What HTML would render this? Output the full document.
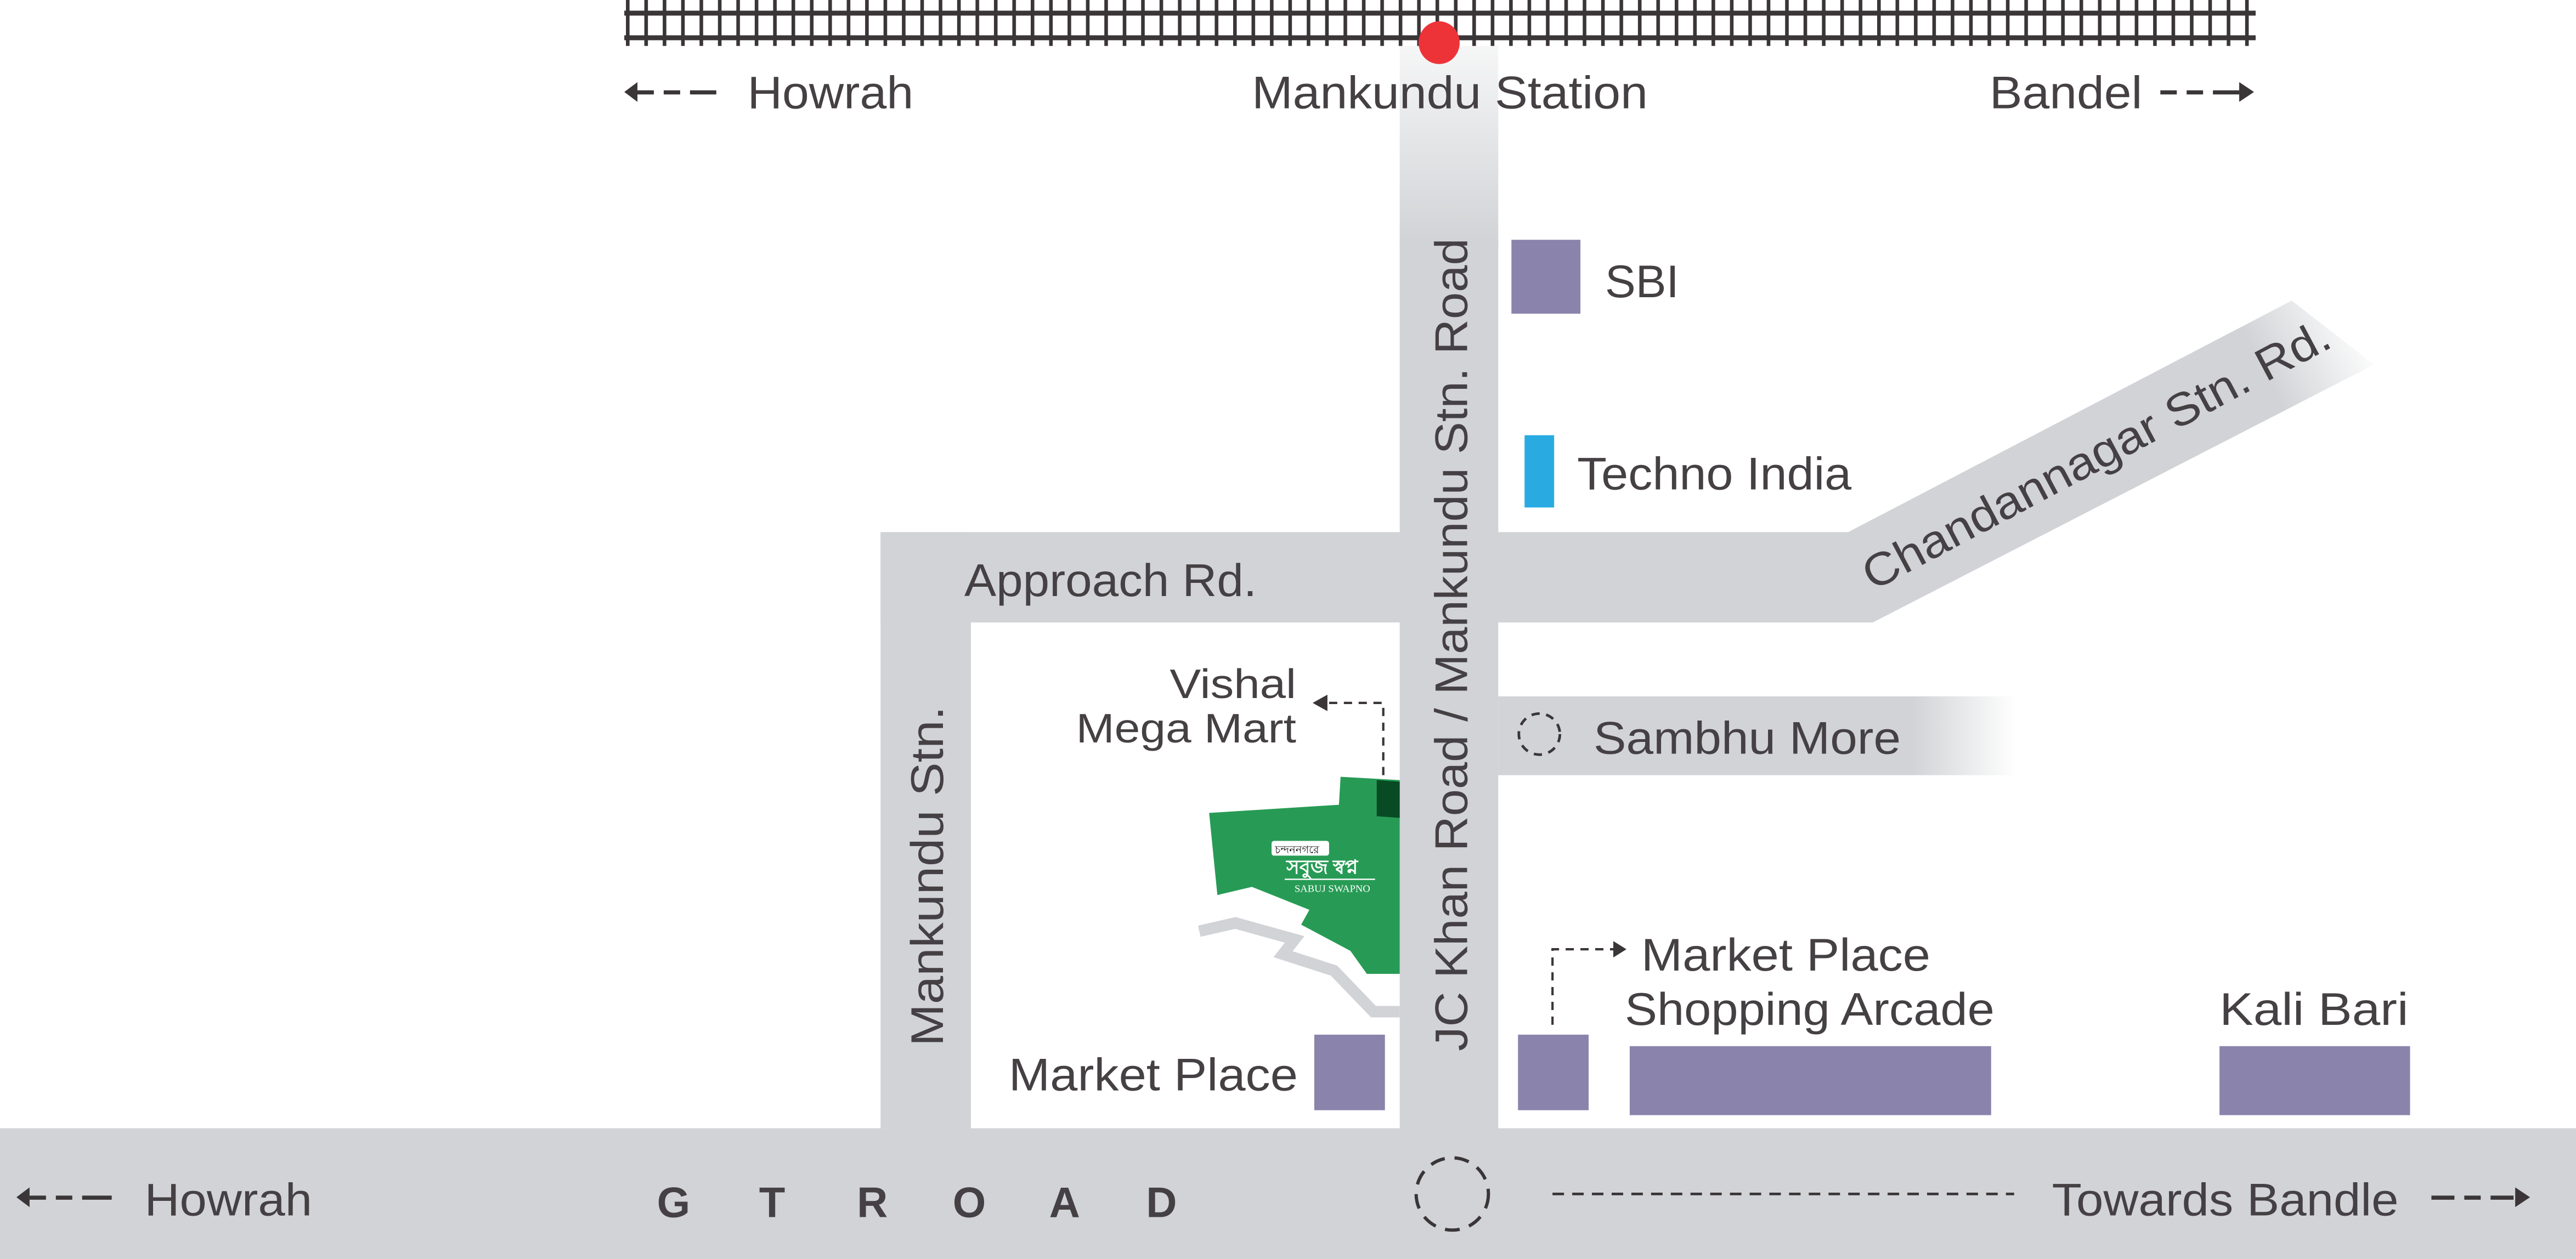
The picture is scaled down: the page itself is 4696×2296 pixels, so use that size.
<!DOCTYPE html>
<html><head><meta charset="utf-8"><style>
html,body{margin:0;padding:0;background:#fff;}
svg{display:block;}
text{font-family:"Liberation Sans",sans-serif;fill:#454043;}
</style></head><body>
<svg width="4696" height="2296" viewBox="0 0 1568 766.6" preserveAspectRatio="none" xmlns="http://www.w3.org/2000/svg">
<defs>
<linearGradient id="fadeTop" x1="0" y1="0" x2="0" y2="1">
<stop offset="0" stop-color="#d1d3d6" stop-opacity="0.2"/><stop offset="1" stop-color="#d1d3d6"/></linearGradient>
<linearGradient id="fadeR" x1="0" y1="0" x2="1" y2="0">
<stop offset="0.8" stop-color="#d1d3d6"/><stop offset="1" stop-color="#d1d3d6" stop-opacity="0"/></linearGradient>
<linearGradient id="fadeD" x1="1140" y1="350" x2="1440" y2="200" gradientUnits="userSpaceOnUse">
<stop offset="0.8" stop-color="#d1d3d6"/><stop offset="1" stop-color="#d1d3d6" stop-opacity="0"/></linearGradient>
<pattern id="ties" x="381" y="0" width="11.2" height="40" patternUnits="userSpaceOnUse">
<rect x="0" y="0" width="2.2" height="28" fill="#3a3537"/></pattern>
</defs>
<rect x="852" y="28" width="60" height="120" fill="url(#fadeTop)"/>
<rect x="852" y="147" width="60" height="620" fill="#d1d3d6"/>
<rect x="0" y="687" width="1568" height="80" fill="#d1d3d6"/>
<rect x="536" y="324" width="604" height="55" fill="#d1d3d6"/>
<rect x="536" y="324" width="55" height="363" fill="#d1d3d6"/>
<polygon points="1125,324 1395,183 1445,222 1140,379" fill="url(#fadeD)"/>
<rect x="912" y="424" width="315" height="48" fill="url(#fadeR)"/>
<rect x="380" y="0" width="993" height="28" fill="url(#ties)"/>
<rect x="380" y="6.5" width="993" height="3" fill="#3a3537"/>
<rect x="380" y="21.5" width="993" height="3" fill="#3a3537"/>
<ellipse cx="876" cy="26" rx="12.5" ry="13" fill="#ee3338"/>
<rect x="920" y="146" width="42" height="45" fill="#8a84ac"/>
<rect x="928" y="265" width="18" height="44" fill="#29abe2"/>
<rect x="800" y="630" width="43" height="46" fill="#8a84ac"/>
<rect x="924" y="630" width="43" height="46" fill="#8a84ac"/>
<rect x="992" y="637" width="220" height="42" fill="#8a84ac"/>
<rect x="1351" y="637" width="116" height="42" fill="#8a84ac"/>
<polyline points="730,567 752,562 788,572 781,581 812,591 836,616 852,616" fill="none" stroke="#d1d3d6" stroke-width="7"/>
<polygon points="816,473 852,475 852,593 832,593 822,579 792,563 797,554 762,540 741,545 736,495 815,490" fill="#279b55"/>
<polygon points="838,475 852,476 852,498 838,497" fill="#074a24"/>
<rect x="774" y="512" width="35" height="9" rx="1.5" fill="#fff"/>
<text x="776" y="519.5" style="font-family:'Liberation Sans','Noto Sans CJK SC',sans-serif;font-size:6.5px;fill:#222">চন্দননগরে</text>
<text x="783" y="532" style="font-family:'Liberation Serif','Noto Sans CJK SC',serif;font-size:12px;fill:#fff;font-weight:bold">সবুজ স্বপ্ন</text>
<rect x="782" y="535" width="55" height="0.8" fill="#fff"/>
<text x="788" y="543" style="font-family:'Liberation Serif',serif;font-size:6px;fill:#fff" textLength="46" lengthAdjust="spacingAndGlyphs">SABUJ SWAPNO</text>
<path d="M842,472 V428 H808" fill="none" stroke="#3a3537" stroke-width="1.4" stroke-dasharray="5,4"/>
<polygon points="799,428 808,423 808,433" fill="#3a3537"/>
<path d="M945,624 V578 H982" fill="none" stroke="#3a3537" stroke-width="1.4" stroke-dasharray="5,4"/>
<polygon points="990,578 982,573 982,583" fill="#3a3537"/>
<circle cx="937" cy="447" r="12.5" fill="none" stroke="#3a3537" stroke-width="1.6" stroke-dasharray="5,4"/>
<circle cx="884" cy="727" r="22" fill="none" stroke="#3a3537" stroke-width="2" stroke-dasharray="9,6"/>
<path d="M945,727 H1226" stroke="#3a3537" stroke-width="1.6" stroke-dasharray="7,5"/>
<g fill="#3a3537">
<polygon points="380,56 388,50 388,62"/><rect x="388" y="55" width="10" height="2.5"/><rect x="404" y="55" width="10" height="2.5"/><rect x="420" y="55" width="16" height="2.5"/>
<rect x="1315" y="55" width="10" height="2.5"/><rect x="1331" y="55" width="10" height="2.5"/><rect x="1347" y="55" width="16" height="2.5"/><polygon points="1372,56 1363,50 1363,62"/>
<polygon points="10,729 18,723 18,735"/><rect x="18" y="728" width="10" height="2.5"/><rect x="34" y="728" width="10" height="2.5"/><rect x="50" y="728" width="18" height="2.5"/>
<rect x="1480" y="728" width="14" height="2.5"/><rect x="1500" y="728" width="10" height="2.5"/><rect x="1516" y="728" width="14" height="2.5"/><polygon points="1540,729 1531,723 1531,735"/>
</g>
<g style="font-size:28px">
<text x="455" y="66" textLength="101" lengthAdjust="spacingAndGlyphs">Howrah</text>
<text x="762" y="66" textLength="241" lengthAdjust="spacingAndGlyphs">Mankundu Station</text>
<text x="1211" y="66" textLength="93" lengthAdjust="spacingAndGlyphs">Bandel</text>
<text x="977" y="181" textLength="45" lengthAdjust="spacingAndGlyphs">SBI</text>
<text x="960" y="298" textLength="167" lengthAdjust="spacingAndGlyphs">Techno India</text>
<text x="587" y="363" textLength="178" lengthAdjust="spacingAndGlyphs">Approach Rd.</text>
<text x="970" y="459" textLength="187" lengthAdjust="spacingAndGlyphs">Sambhu More</text>
<text x="614" y="664" textLength="176" lengthAdjust="spacingAndGlyphs">Market Place</text>
<text x="999" y="591" textLength="176" lengthAdjust="spacingAndGlyphs">Market Place</text>
<text x="989" y="624" textLength="225" lengthAdjust="spacingAndGlyphs">Shopping Arcade</text>
<text x="1351" y="624" textLength="115" lengthAdjust="spacingAndGlyphs">Kali Bari</text>
<text x="88" y="740" textLength="102" lengthAdjust="spacingAndGlyphs">Howrah</text>
<text x="1249" y="740" textLength="211" lengthAdjust="spacingAndGlyphs">Towards Bandle</text>
<text transform="translate(1140,360) rotate(-28)" textLength="318" lengthAdjust="spacingAndGlyphs">Chandannagar Stn. Rd.</text>
<text transform="translate(574,637) rotate(-90)" textLength="207" lengthAdjust="spacingAndGlyphs">Mankundu Stn.</text>
<text transform="translate(893,640) rotate(-90)" textLength="495" lengthAdjust="spacingAndGlyphs">JC Khan Road / Mankundu Stn. Road</text>
</g>
<g style="font-size:25px" text-anchor="end">
<text x="789" y="425" textLength="77" lengthAdjust="spacingAndGlyphs">Vishal</text>
<text x="789" y="452" textLength="134" lengthAdjust="spacingAndGlyphs">Mega Mart</text>
</g>
<g style="font-size:26px;font-weight:bold" text-anchor="middle">
<text x="410" y="741">G</text><text x="470" y="741">T</text><text x="531" y="741">R</text>
<text x="590" y="741">O</text><text x="648" y="741">A</text><text x="707" y="741">D</text>
</g>
</svg>
</body></html>
